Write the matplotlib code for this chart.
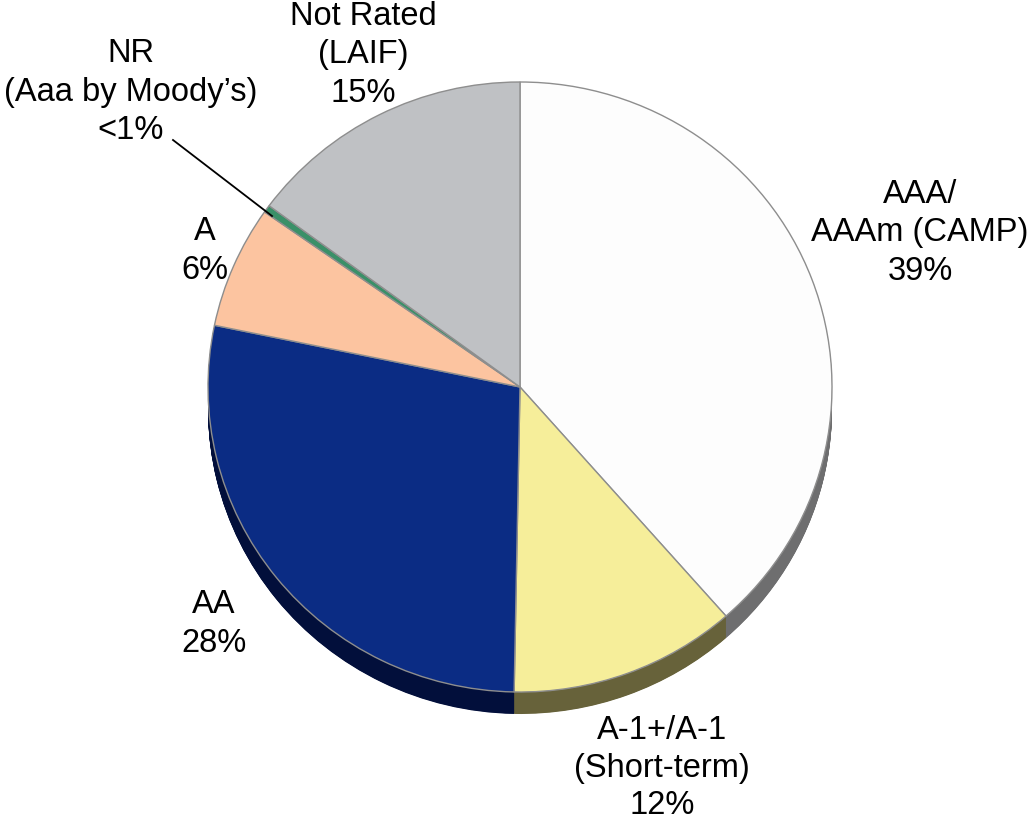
import numpy as np
import matplotlib.pyplot as plt
from matplotlib.lines import Line2D

# data
labels = ["AAA/\nAAAm (CAMP)\n39%", "A-1+/A-1\n(Short-term)\n12%", "AA\n28%", "A\n6%",
          "NR\n(Aaa by Moody\u2019s)\n<1%", "Not Rated\n(LAIF)\n15%"]
values = [38.6, 11.8, 28.0, 6.5, 0.4, 14.9]
top_colors = ["#FDFDFD", "#F6EE9A", "#0B2C84", "#FCC4A0", "#3A9068", "#BFC1C4"]
side_colors = ["#6E6E6F", "#67623A", "#020F3B", "#8A6A55", "#1F5038", "#6A6B6D"]

# label centres in pixels (x, y from top)
label_pos = [(920, 233), (662, 768), (214, 624), (205, 251), (131, 92), (363, 55)]

W, H = 1032, 824
cx, cy = 520, 387     # pie centre in pixels
rx, ry = 312, 305     # pie radii in pixels
depth = 22            # thickness of the side, pixels

plt.rcParams["font.family"] = ["Liberation Sans", "DejaVu Sans"]

fig = plt.figure(figsize=(W / 100, H / 100), dpi=100)
ax = fig.add_axes([0, 0, 1, 1])

# side of the pie: stack of shifted, darker pies
for d in np.linspace(depth, 0.5, 45):
    ax.pie(values, colors=side_colors, startangle=90, counterclock=False,
           center=(0, -d / ry), radius=1, wedgeprops=dict(linewidth=0))

# top surface
ax.pie(values, colors=top_colors, startangle=90, counterclock=False,
       center=(0, 0), radius=1,
       wedgeprops=dict(linewidth=1.0, edgecolor="#8E8E8E"))

ax.set_aspect("auto")
ax.set_xlim(-cx / rx, (W - cx) / rx)
ax.set_ylim(-(H - cy) / ry, cy / ry)
ax.axis("off")

for i, (text, (x, y)) in enumerate(zip(labels, label_pos)):
    fig.text(x / W, 1 - y / H, text, ha="center", va="center",
             multialignment="center", fontsize=23.5,
             linespacing=1.26 if i == 1 else 1.3, color="black")

# leader line for the tiny NR slice
fig.add_artist(Line2D([173 / W, 272 / W], [1 - 140 / H, 1 - 216 / H],
                      color="black", linewidth=1.3))

fig.savefig("out.png", dpi=100)
